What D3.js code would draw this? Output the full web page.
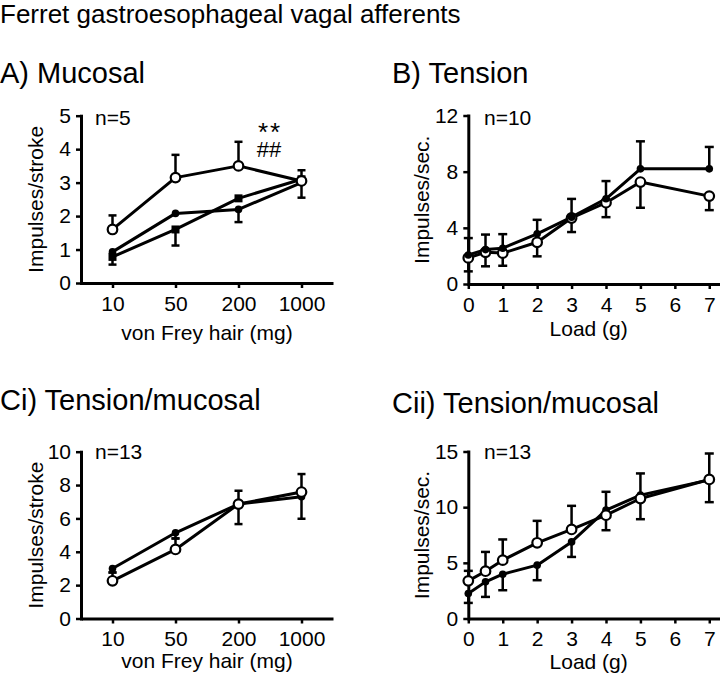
<!DOCTYPE html>
<html>
<head>
<meta charset="utf-8">
<script src="https://cdn.jsdelivr.net/npm/d3@7"></script>
<style>
  html, body { margin: 0; padding: 0; background: #fff; }
  svg { display: block; }
  text { font-family: "Liberation Sans", Arial, Helvetica, sans-serif; fill: #000; }
</style>
</head>
<body>
<svg id="chart" width="720" height="677"></svg>
<script>
// ---------- DATA ----------
const hairCategories = ["10", "50", "200", "1000"];
const loadValues = [0, 0.5, 1, 2, 3, 4, 5, 7];
const loadTicks = [0, 1, 2, 3, 4, 5, 6, 7];

// A) Mucosal (impulses/stroke)
const aOpen = [1.6, 3.15, 3.5, 3.05];
const aOpenErrUp = [0.42, 0.68, 0.72, 0];
const aFilled = [0.93, 2.08, 2.2, 3.0];
const aFilledErrDown = [0, 0, 0.38, 0.45];
const aSquare = [0.78, 1.6, 2.53, 3.1];
const aSquareErrDown = [0.23, 0.48, 0, 0];
const aSquareErrUp = [0, 0, 0, 0.27];
const aYTicks = [0, 1, 2, 3, 4, 5];

// B) Tension (impulses/sec)
const bFilled = [2.07, 2.45, 2.55, 3.57, 4.76, 6.07, 8.2, 8.2];
const bFilledErrUp = [1.2, 1.07, 1.0, 1.0, 1.3, 1.26, 1.96, 1.56];
const bOpen = [1.86, 2.26, 2.2, 2.97, 4.7, 5.79, 7.26, 6.26];
const bOpenErrDown = [0.96, 1.0, 0.9, 1.0, 1.0, 1.03, 1.83, 1.0];
const bYTicks = [0, 4, 8, 12];

// Ci) Tension/mucosal (impulses/stroke)
const ciFilled = [3.0, 5.14, 6.86, 7.3];
const ciFilledErrDown = [0.24, 0.34, 1.2, 1.32];
const ciOpen = [2.26, 4.14, 6.86, 7.58];
const ciOpenErrUp = [0.5, 0.66, 0.8, 1.08];
const ciYTicks = [0, 2, 4, 6, 8, 10];

// Cii) Tension/mucosal (impulses/sec)
const ciiOpen = [3.38, 4.25, 5.24, 6.8, 8.0, 9.28, 10.78, 12.49];
const ciiOpenErrUp = [0.9, 1.73, 1.86, 1.97, 2.12, 2.1, 2.25, 2.33];
const ciiFilled = [2.25, 3.29, 3.98, 4.79, 6.88, 9.73, 11.08, 12.45];
const ciiFilledErrDown = [0.85, 1.35, 1.44, 1.35, 1.35, 1.8, 2.16, 2.0];
const ciiYTicks = [0, 5, 10, 15];

// ---------- DRAWING ----------
const svg = d3.select("#chart");
const FS = 21;

svg.append("text").attr("x", 0).attr("y", 23).style("font-size", "26px")
  .text("Ferret gastroesophageal vagal afferents");

function panel(opts) {
  const g = svg.append("g");
  const { x, y } = opts;

  svg.append("text").attr("x", opts.titleX).attr("y", opts.titleY)
    .style("font-size", "29px").text(opts.title);

  const xAxis = d3.axisBottom(x).tickSizeInner(5).tickSizeOuter(0).tickPadding(8);
  if (opts.xTicks) xAxis.tickValues(opts.xTicks).tickFormat(d3.format("d"));
  const yAxis = d3.axisLeft(y).tickValues(opts.yTicks).tickFormat(d3.format("d"))
    .tickSizeInner(5).tickSizeOuter(0).tickPadding(5);

  const gx = g.append("g").attr("transform", `translate(0,${y(0)})`).call(xAxis);
  const gy = g.append("g").attr("transform", `translate(${opts.x0},0)`).call(yAxis);
  [gx, gy].forEach(a => {
    a.select(".domain").attr("stroke", "#000").attr("stroke-width", 3);
    a.selectAll(".tick line").attr("stroke", "#000").attr("stroke-width", 2.5);
    a.selectAll(".tick text").style("font-size", FS + "px").attr("fill", "#000")
      .style("font-family", '"Liberation Sans", Arial, sans-serif');
  });
  gy.select(".domain").attr("stroke-linecap", "square");

  svg.append("text").attr("x", (x.range()[0] + opts.xTitleRight) / 2).attr("y", opts.xTitleY)
    .attr("text-anchor", "middle").style("font-size", FS + "px").text(opts.xTitle);
  svg.append("text")
    .attr("transform", `translate(${opts.yTitleX},${(y.range()[0] + y.range()[1]) / 2}) rotate(-90)`)
    .attr("text-anchor", "middle").attr("dy", "0.36em").style("font-size", FS + "px").text(opts.yTitle);

  svg.append("text").attr("x", opts.nX).attr("y", opts.nY).style("font-size", FS + "px").text(opts.nText);

  const line = d3.line().x(d => x(d.x)).y(d => y(d.v));

  opts.series.forEach(s => {
    const pts = s.values.map((v, i) => ({ x: opts.xs[i], v }));
    g.append("path").datum(pts).attr("d", line)
      .attr("fill", "none").attr("stroke", "#000").attr("stroke-width", 3)
      .attr("stroke-linejoin", "round");
  });

  const cap = opts.cap;
  opts.series.forEach(s => {
    s.values.forEach((v, i) => {
      const cx = x(opts.xs[i]);
      const ends = [];
      if (s.up && s.up[i]) ends.push(v + s.up[i]);
      if (s.down && s.down[i]) ends.push(v - s.down[i]);
      ends.forEach(e => {
        g.append("line").attr("x1", cx).attr("x2", cx).attr("y1", y(v)).attr("y2", y(e))
          .attr("stroke", "#000").attr("stroke-width", 2.5);
        g.append("line").attr("x1", cx - cap / 2).attr("x2", cx + cap / 2).attr("y1", y(e)).attr("y2", y(e))
          .attr("stroke", "#000").attr("stroke-width", 2.5);
      });
    });
  });

  opts.series.forEach(s => {
    s.values.forEach((v, i) => {
      const cx = x(opts.xs[i]), cy = y(v);
      if (s.marker === "open") {
        g.append("circle").attr("cx", cx).attr("cy", cy).attr("r", 4.8)
          .attr("fill", "#fff").attr("stroke", "#000").attr("stroke-width", 2.2);
      } else if (s.marker === "filled") {
        g.append("circle").attr("cx", cx).attr("cy", cy).attr("r", 3.8).attr("fill", "#000");
      } else if (s.marker === "square") {
        g.append("rect").attr("x", cx - 4).attr("y", cy - 4).attr("width", 8).attr("height", 8).attr("fill", "#000");
      }
    });
  });
  return g;
}

// A
const xA = d3.scalePoint().domain(hairCategories).range([81, 333]).padding(0.5);
const yA = d3.scaleLinear().domain([0, 5]).range([283, 115.7]);
panel({
  x: xA, y: yA, x0: 81, xs: hairCategories, yTicks: aYTicks,
  title: "A) Mucosal", titleX: 0, titleY: 83,
  xTitle: "von Frey hair (mg)", xTitleY: 340, xTitleRight: 333,
  yTitle: "Impulses/stroke", yTitleX: 35,
  nText: "n=5", nX: 95, nY: 125, cap: 8,
  series: [
    { values: aSquare, marker: "square", up: aSquareErrUp, down: aSquareErrDown },
    { values: aFilled, marker: "filled", down: aFilledErrDown },
    { values: aOpen, marker: "open", up: aOpenErrUp }
  ]
});
svg.append("text").attr("x", 270).attr("y", 141).attr("text-anchor", "middle")
  .style("font-size", "26px").style("letter-spacing", "2px").text("**");
svg.append("text").attr("x", 269).attr("y", 157).attr("text-anchor", "middle")
  .style("font-size", "22px").text("##");

// B
const xB = d3.scaleLinear().domain([0, 7.3]).range([468.3, 719.6]);
const yB = d3.scaleLinear().domain([0, 12]).range([284, 115.5]);
panel({
  x: xB, y: yB, x0: 468.3, xs: loadValues, xTicks: loadTicks, yTicks: bYTicks,
  title: "B) Tension", titleX: 392, titleY: 83,
  xTitle: "Load (g)", xTitleY: 336, xTitleRight: 709,
  yTitle: "Impulses/sec.", yTitleX: 421.7,
  nText: "n=10", nX: 484, nY: 125, cap: 9,
  series: [
    { values: bOpen, marker: "open", down: bOpenErrDown },
    { values: bFilled, marker: "filled", up: bFilledErrUp }
  ]
});

// Ci
const xCi = d3.scalePoint().domain(hairCategories).range([81, 333]).padding(0.5);
const yCi = d3.scaleLinear().domain([0, 10]).range([618.5, 451.7]);
panel({
  x: xCi, y: yCi, x0: 81, xs: hairCategories, yTicks: ciYTicks,
  title: "Ci) Tension/mucosal", titleX: 0, titleY: 410,
  xTitle: "von Frey hair (mg)", xTitleY: 668, xTitleRight: 333,
  yTitle: "Impulses/stroke", yTitleX: 35,
  nText: "n=13", nX: 95, nY: 459, cap: 8,
  series: [
    { values: ciFilled, marker: "filled", down: ciFilledErrDown },
    { values: ciOpen, marker: "open", up: ciOpenErrUp }
  ]
});

// Cii
const xCii = d3.scaleLinear().domain([0, 7.3]).range([468.3, 719.6]);
const yCii = d3.scaleLinear().domain([0, 15]).range([618.5, 451.5]);
panel({
  x: xCii, y: yCii, x0: 468.3, xs: loadValues, xTicks: loadTicks, yTicks: ciiYTicks,
  title: "Cii) Tension/mucosal", titleX: 392, titleY: 413,
  xTitle: "Load (g)", xTitleY: 669, xTitleRight: 709,
  yTitle: "Impulses/sec.", yTitleX: 421.7,
  nText: "n=13", nX: 484, nY: 459, cap: 9,
  series: [
    { values: ciiFilled, marker: "filled", down: ciiFilledErrDown },
    { values: ciiOpen, marker: "open", up: ciiOpenErrUp }
  ]
});
</script>
</body>
</html>
